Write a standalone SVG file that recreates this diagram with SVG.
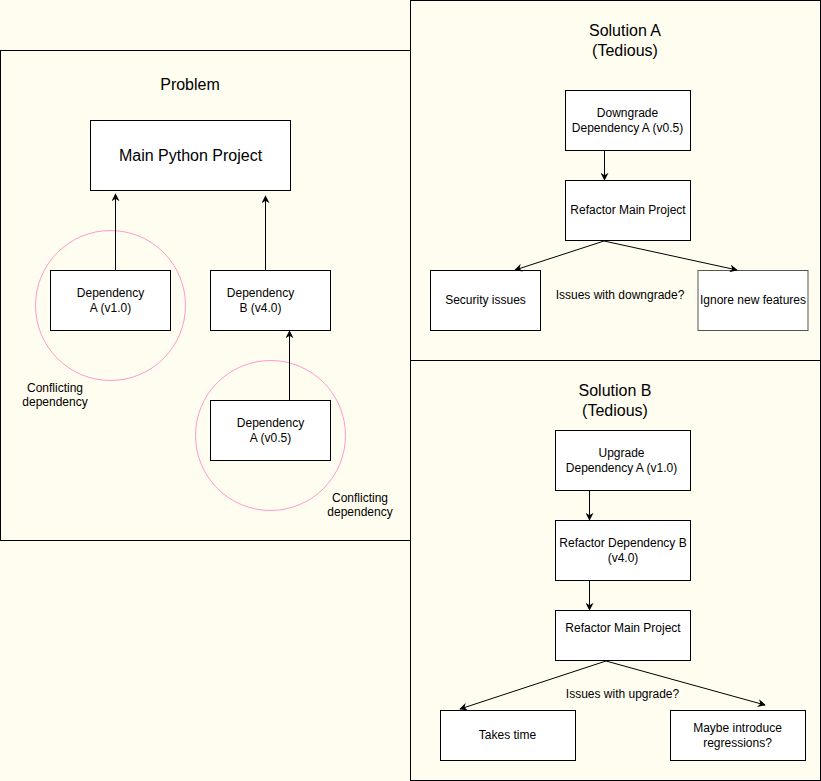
<svg xmlns="http://www.w3.org/2000/svg" width="821" height="781" viewBox="0 0 821 781">
<style>
text{font-family:"Liberation Sans",Arial,sans-serif;fill:#000;text-anchor:middle;dominant-baseline:central}
.t16{font-size:16px}
.t12{font-size:12px}
.cont{fill:none;stroke:#000;stroke-width:1}
.box{fill:#fff;stroke:#000;stroke-width:1}
.ring{fill:none;stroke:#FF99CC;stroke-width:1}
.edge{fill:none;stroke:#000;stroke-width:1;marker-end:url(#arr)}
</style>
<defs>
<marker id="arr" viewBox="0 0 10 10" refX="9" refY="5" markerWidth="8" markerHeight="8" markerUnits="userSpaceOnUse" orient="auto">
<path d="M0,0 L10,5 L0,10 L3,5 z" fill="#000"/>
</marker>
</defs>
<rect x="0" y="0" width="821" height="781" fill="#FFFDF0"/>

<g id="problem">
<rect class="cont" x="0.5" y="50.5" width="410" height="490"/>
<text class="t16" x="190" y="84">Problem</text>
</g>
<g id="solutionA">
<rect class="cont" x="410.5" y="0.5" width="410" height="360"/>
<text class="t16" x="625" y="30">Solution A</text>
<text class="t16" x="625" y="50">(Tedious)</text>
</g>
<g id="solutionB">
<rect class="cont" x="410.5" y="360.5" width="410" height="420"/>
<text class="t16" x="615" y="390">Solution B</text>
<text class="t16" x="615" y="410">(Tedious)</text>
</g>

<g id="ring1"><circle class="ring" cx="110.5" cy="305.5" r="75"/></g>
<g id="ring2"><circle class="ring" cx="270.5" cy="435.5" r="75"/></g>

<g id="mainPython">
<rect class="box" x="90.5" y="120.5" width="200" height="70"/>
<text class="t16" x="190.5" y="155.5">Main Python Project</text>
</g>
<g id="depA10">
<rect class="box" x="50.5" y="270.5" width="120" height="60"/>
<text class="t12" x="110.5" y="293">Dependency</text>
<text class="t12" x="110.5" y="308">A (v1.0)</text>
</g>
<g id="depB40">
<rect class="box" x="210.5" y="270.5" width="120" height="60"/>
<text class="t12" x="260.5" y="293">Dependency</text>
<text class="t12" x="260.5" y="308">B (v4.0)</text>
</g>
<g id="depA05">
<rect class="box" x="210.5" y="400.5" width="120" height="60"/>
<text class="t12" x="270.5" y="423">Dependency</text>
<text class="t12" x="270.5" y="438">A (v0.5)</text>
</g>
<g id="conflict1">
<text class="t12" x="55" y="388">Conflicting</text>
<text class="t12" x="55" y="402">dependency</text>
</g>
<g id="conflict2">
<text class="t12" x="360" y="498">Conflicting</text>
<text class="t12" x="360" y="512">dependency</text>
</g>

<g id="downgrade">
<rect class="box" x="565.5" y="90.5" width="125" height="60"/>
<text class="t12" x="627.5" y="113">Downgrade</text>
<text class="t12" x="627.5" y="128">Dependency A (v0.5)</text>
</g>
<g id="refactorMainA">
<rect class="box" x="565.5" y="180.5" width="125" height="60"/>
<text class="t12" x="628" y="210">Refactor Main Project</text>
</g>
<g id="security">
<rect class="box" x="430.5" y="270.5" width="110" height="60"/>
<text class="t12" x="485.5" y="300">Security issues</text>
</g>
<g id="ignoreFeatures">
<rect class="box" x="698" y="270.5" width="110" height="60" style="stroke:#555"/>
<text class="t12" x="753" y="300">Ignore new features</text>
</g>
<g id="labelA">
<text class="t12" x="620" y="295">Issues with downgrade?</text>
</g>

<g id="upgrade">
<rect class="box" x="555.5" y="430.5" width="135" height="60"/>
<text class="t12" x="621.5" y="453">Upgrade</text>
<text class="t12" x="621.5" y="468">Dependency A (v1.0)</text>
</g>
<g id="refactorDepB">
<rect class="box" x="555.5" y="520.5" width="135" height="60"/>
<text class="t12" x="623" y="543">Refactor Dependency B</text>
<text class="t12" x="623" y="558">(v4.0)</text>
</g>
<g id="refactorMainB">
<rect class="box" x="555.5" y="610.5" width="135" height="50"/>
<text class="t12" x="623" y="628">Refactor Main Project</text>
</g>
<g id="takesTime">
<rect class="box" x="440.5" y="710.5" width="135" height="50"/>
<text class="t12" x="507.5" y="735">Takes time</text>
</g>
<g id="regressions">
<rect class="box" x="670.5" y="710.5" width="135" height="50"/>
<text class="t12" x="737.5" y="728">Maybe introduce</text>
<text class="t12" x="737.5" y="743">regressions?</text>
</g>
<g id="labelB">
<text class="t12" x="622.5" y="694">Issues with upgrade?</text>
</g>

<g id="connectors">
<path class="edge" d="M115.5,270 L115.5,194"/>
<path class="edge" d="M265.5,270 L265.5,196"/>
<path class="edge" d="M289.5,400 L289.5,331"/>
<path class="edge" d="M604.5,151 L604.5,180"/>
<path class="edge" d="M604,241 L515,270"/>
<path class="edge" d="M604,241 L737,270"/>
<path class="edge" d="M589.5,491 L589.5,520"/>
<path class="edge" d="M589.5,581 L589.5,610"/>
<path class="edge" d="M606,661 L460,709"/>
<path class="edge" d="M606,661 L765,705"/>
</g>
</svg>
